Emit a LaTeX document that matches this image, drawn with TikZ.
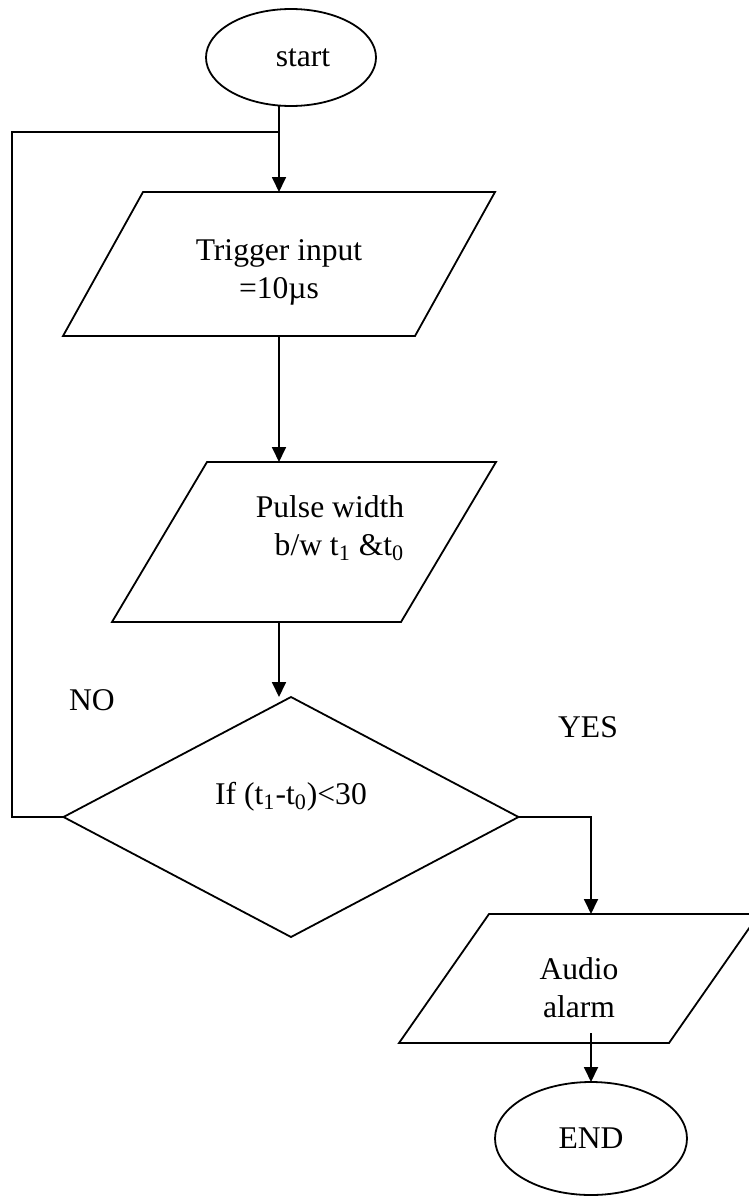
\documentclass[tikz,border=0pt]{standalone}
\usepackage{fontspec}
\setmainfont{Liberation Serif}
\usepackage{tikz}
\usetikzlibrary{shapes.geometric,arrows.meta,calc}

% parallelogram on a (named) box: #1 node, #2 slant
\newcommand\slantbox[2]{%
  \draw ([xshift=#2]#1.north west) -- (#1.north east)
    -- ([xshift=-#2]#1.south east) -- (#1.south west) -- cycle;}

\begin{document}
\begin{tikzpicture}[x=0.5pt,y=-0.5pt,line width=0.9pt,
  font=\fontsize{15.8pt}{19pt}\selectfont,
  >={Triangle[length=7.5pt,width=7pt]},
  term/.style={ellipse,draw,inner sep=0pt,outer sep=0pt},
  io/.style={rectangle,inner sep=0pt,outer sep=0pt},
  test/.style={diamond,draw,inner sep=2pt,outer sep=0pt}]
  \useasboundingbox (0,0) rectangle (749,1199);

  % columns of the connectors
  \coordinate (col) at (279,0);
  \coordinate (yescol) at (591,0);
  \coordinate (back) at (12,0);
  \coordinate (join) at (279,132);

  % boxes
  \node[term,minimum width=85pt,minimum height=48.5pt] (start) at (291,57.5) {\hspace*{12pt}start};

  \node[io,minimum width=216pt,minimum height=72pt] (trigger) at (279,264) {};
  \slantbox{trigger}{40pt}
  \node[align=center] (triggertxt) at (279,272) {Trigger input\\=10µs};

  \node[io,minimum width=192pt,minimum height=80pt] (pulse) at (304,542) {};
  \slantbox{pulse}{47.5pt}
  \node[align=right] (pulsetxt) at (330,528) {Pulse width\\b/w t\textsubscript{1} \&t\textsubscript{0}};

  \node[test,minimum width=227.5pt,minimum height=120pt] (dec) at (291,817) {\strut};
  \node (dectxt) at (291,797) {If (t\textsubscript{1}-t\textsubscript{0})<30};

  \node[io,minimum width=180pt,minimum height=64.5pt] (audio) at (579,978.5) {};
  \slantbox{audio}{45pt}
  \node[align=center] (audiotxt) at (579,988) {Audio\\alarm};

  \node[term,minimum width=96pt,minimum height=56.5pt] (stop) at (591,1138.5) {END};

  % branch labels
  \node (no) at (92,700) {NO};
  \node (yes) at (588,727) {YES};

  % main flow
  \draw[->] (col |- start.south) -- (col |- trigger.north);
  \draw[->] (col |- trigger.south) -- (col |- pulse.north);
  \draw[->] (col |- pulse.south) -- (col |- dec.north);

  % NO: back to the top
  \draw (dec.west) -- (dec.west -| back) |- (join);

  % YES: to the alarm
  \draw[->] (dec.east) -| (yescol |- audio.north);
  \draw[->] ($(yescol |- audio.south)+(0,-10)$) -- (stop.north);

\end{tikzpicture}
\end{document}
